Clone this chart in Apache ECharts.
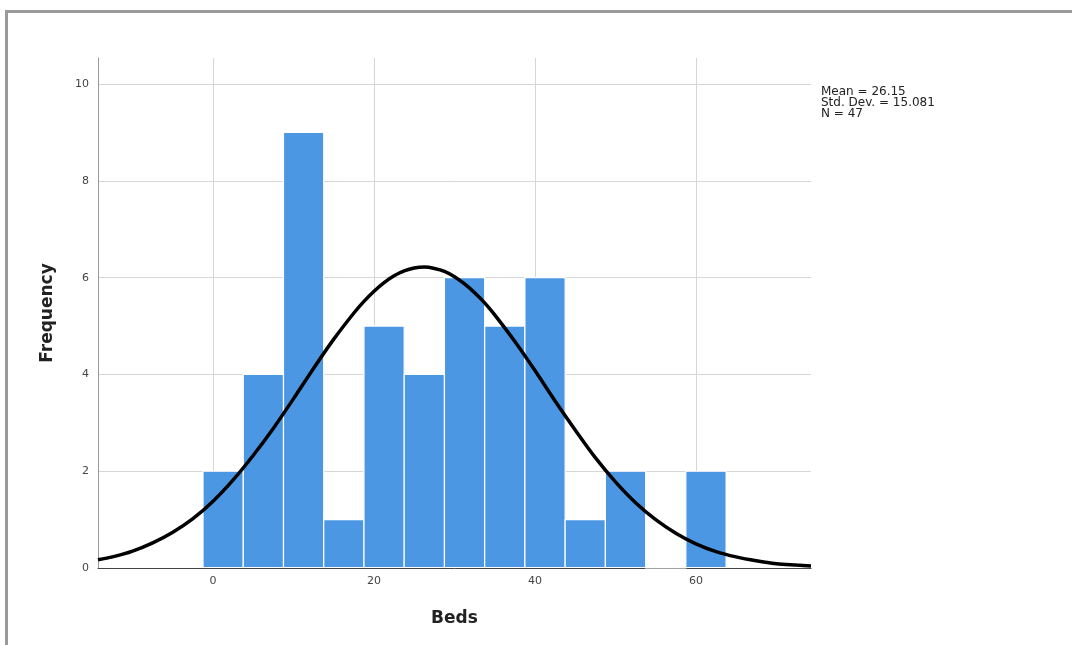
<!DOCTYPE html>
<html>
<head>
<meta charset="utf-8">
<script src="https://cdn.jsdelivr.net/npm/echarts@6/dist/echarts.min.js"></script>
<style>
  html, body { margin: 0; padding: 0; background: #fff; }
  #frame { position: absolute; left: 5px; top: 10px; right: 0; bottom: 0;
           border-top: 3px solid #9a9a9a; border-left: 3px solid #9a9a9a; }
  #bedsHistogram { position: absolute; left: 0; top: 0; width: 1072px; height: 645px; }
</style>
</head>
<body>
<div id="frame"></div>
<div id="bedsHistogram"></div>
<script>
// 直方图数据 (bin 下沿, 宽度 5)
var binStart = [-1.25, 3.75, 8.75, 13.75, 18.75, 23.75, 28.75, 33.75, 38.75, 43.75, 48.75, 53.75, 58.75];
var binWidth = 5;
var binCount = [2, 4, 9, 1, 5, 4, 6, 5, 6, 1, 2, 0, 2];

// 正态曲线
var curveX = [-14.3, -12.5, -10, -7.5, -5, -2.5, 0, 2.5, 5, 7.5, 10, 12.5, 15, 17.5, 18.75, 20, 21.25, 22.5, 23.75, 25,
              26.25, 27.5, 28.75, 30, 31.25, 32.5, 33.75, 35, 37.5, 40, 42.5, 45, 47.5, 50, 52.5, 55, 57.5, 60,
              62.5, 65, 67.5, 70, 72.5, 74.3];
var curveY = [0.17, 0.23, 0.35, 0.52, 0.74, 1.02, 1.38, 1.82, 2.33, 2.89, 3.50, 4.13, 4.73, 5.27, 5.51, 5.72, 5.90, 6.04, 6.14, 6.20,
              6.22, 6.19, 6.13, 6.02, 5.87, 5.69, 5.48, 5.23, 4.68, 4.08, 3.45, 2.85, 2.28, 1.78, 1.35, 1.00, 0.72, 0.50,
              0.34, 0.23, 0.15, 0.09, 0.06, 0.04];

var statsLines = ['Mean = 26.15', 'Std. Dev. = 15.081', 'N = 47'];

var barData = binStart.map(function (s, i) { return [s, s + binWidth, binCount[i]]; });
var lineData = curveX.map(function (x, i) { return [x, curveY[i]]; });

var myChart = echarts.init(document.getElementById('bedsHistogram'));
myChart.setOption({
    animation: false,
    title: {
        text: statsLines.join('\n'),
        left: 821,
        top: 86,
        padding: 0,
        textStyle: {
            fontFamily: 'DejaVu Sans',
            fontSize: 12,
            fontWeight: 'normal',
            color: '#222',
            lineHeight: 11
        }
    },
    grid: { left: 98, right: 261, top: 58, bottom: 77 },
    xAxis: {
        type: 'value',
        min: -14.3,
        max: 74.3,
        name: 'Beds',
        nameLocation: 'middle',
        nameGap: 42,
        nameTextStyle: { fontFamily: 'DejaVu Sans', fontSize: 17, fontWeight: 'bold', color: '#222' },
        axisLine: { lineStyle: { color: '#444', width: 1 } },
        axisTick: { show: false },
        axisLabel: { showMinLabel: false, showMaxLabel: false, margin: 8,
                     fontFamily: 'DejaVu Sans', fontSize: 11, color: '#444' },
        splitLine: { show: true, showMinLine: false, showMaxLine: false,
                     lineStyle: { color: '#d6d6d6', width: 1 } }
    },
    yAxis: {
        type: 'value',
        min: 0,
        max: 10.54,
        name: 'Frequency',
        nameLocation: 'middle',
        nameGap: 42,
        nameTextStyle: { fontFamily: 'DejaVu Sans', fontSize: 17, fontWeight: 'bold', color: '#222' },
        axisLine: { show: true, onZero: false, lineStyle: { color: '#999', width: 1 } },
        axisTick: { show: false },
        axisLabel: { showMaxLabel: false, margin: 9,
                     fontFamily: 'DejaVu Sans', fontSize: 11, color: '#444' },
        splitLine: { show: true, showMinLine: false, showMaxLine: false,
                     lineStyle: { color: '#d6d6d6', width: 1 } }
    },
    series: [
        {
            type: 'custom',
            data: barData,
            z: 2,
            renderItem: function (params, api) {
                var p0 = api.coord([api.value(0), api.value(2)]);
                var p1 = api.coord([api.value(1), 0]);
                return {
                    type: 'rect',
                    shape: { x: p0[0], y: p0[1], width: p1[0] - p0[0], height: p1[1] - p0[1] - 0.5 },
                    style: { fill: '#4C97E4', stroke: '#ffffff', lineWidth: 1.2 }
                };
            }
        },
        {
            type: 'line',
            data: lineData,
            z: 3,
            smooth: 0.3,
            symbol: 'none',
            lineStyle: { color: '#000', width: 3.5 }
        }
    ]
});
</script>
</body>
</html>
